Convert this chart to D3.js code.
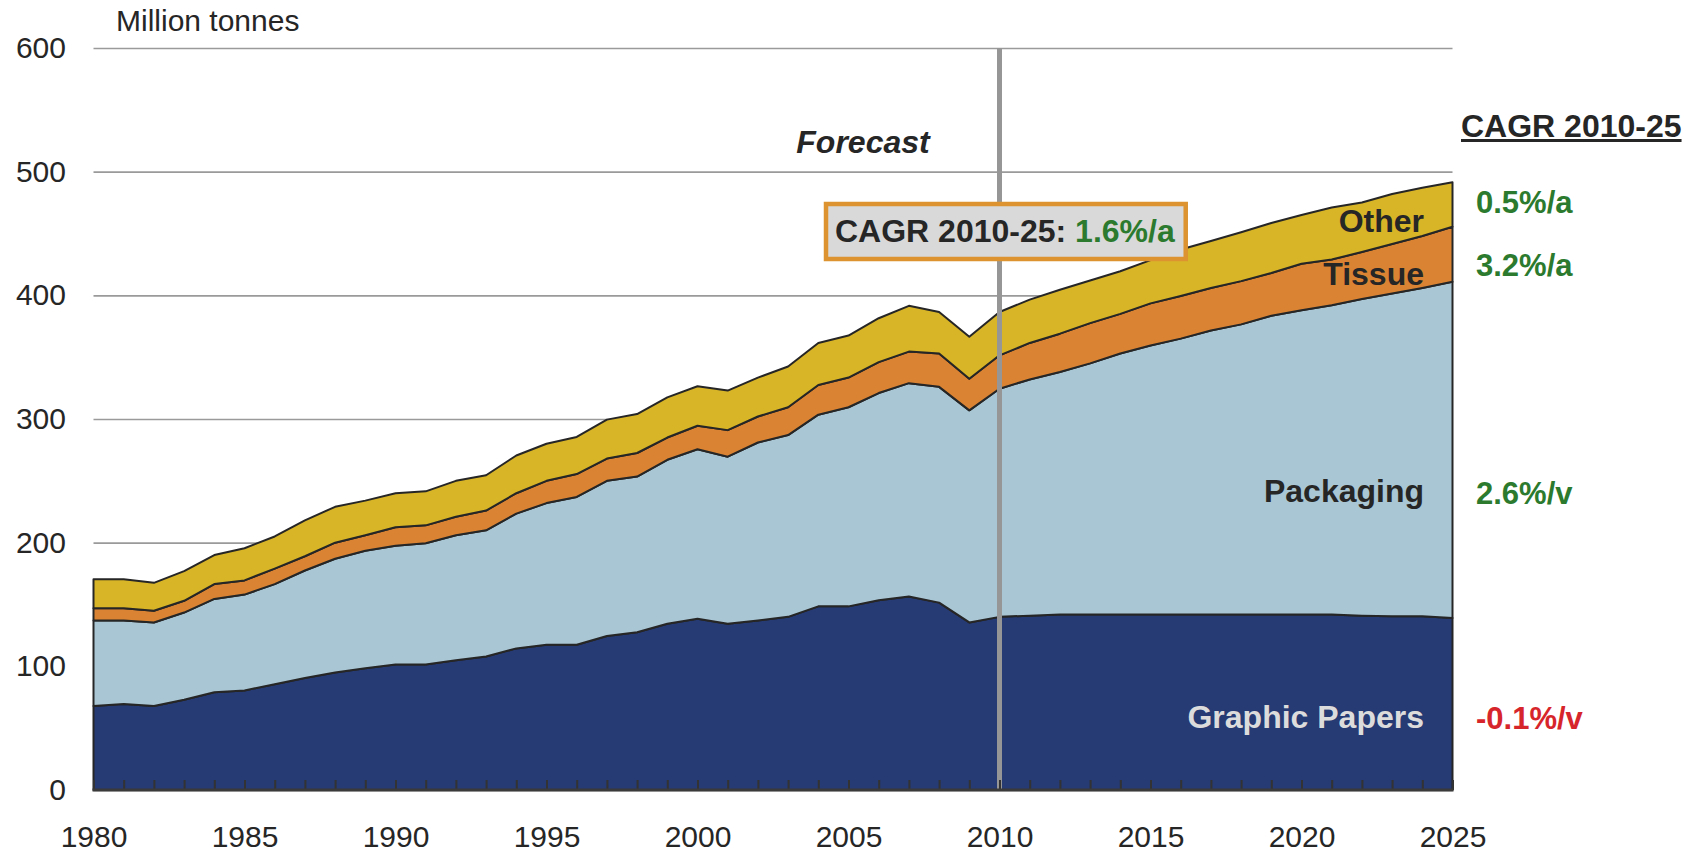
<!DOCTYPE html>
<html>
<head>
<meta charset="utf-8">
<script src="https://cdn.jsdelivr.net/npm/d3@7"></script>
<style>
  html, body { margin: 0; padding: 0; background: #fff; }
  svg { display: block; font-family: "Liberation Sans", Arial, sans-serif; }
</style>
</head>
<body>
<svg id="chart" width="1698" height="852"></svg>
<script>
// years on the x axis
const years = [1980, 1981, 1982, 1983, 1984, 1985, 1986, 1987, 1988, 1989,
  1990, 1991, 1992, 1993, 1994, 1995, 1996, 1997, 1998, 1999,
  2000, 2001, 2002, 2003, 2004, 2005, 2006, 2007, 2008, 2009,
  2010, 2011, 2012, 2013, 2014, 2015, 2016, 2017, 2018, 2019,
  2020, 2021, 2022, 2023, 2024, 2025];

// million tonnes
const graphicPapers = [68, 69.5, 68, 73, 79, 80.5, 85.5, 90.5, 95, 98.5,
  101.5, 101.5, 105, 108, 114.5, 117.5, 117.5, 124.5, 127.5, 134.5,
  138.5, 134.5, 137, 140, 148.5, 148.5, 153.5, 156.5, 151.5, 135.5,
  140, 141, 142, 142, 142, 142, 142, 142, 142, 142,
  142, 142, 141, 140.5, 140.5, 139];
const packaging = [69, 67.5, 67.5, 70.5, 75.5, 77.5, 81, 87, 92, 95,
  96, 98, 101, 102, 109, 114.5, 119.5, 125.5, 126, 132.5,
  137, 135, 144, 147, 155, 161, 167.5, 172.5, 174.5, 171.5,
  184.5, 191, 196, 203, 211, 217.5, 223, 229.5, 234.5, 241.5,
  246, 250, 256, 261, 265.5, 272];
const tissue = [10, 10, 9.5, 9.5, 12, 11.5, 12.5, 11.5, 13, 12.5,
  15, 14.5, 15, 16, 16.5, 18, 18.5, 18, 19, 18,
  19, 21.5, 21, 22.5, 24, 24, 25, 25.5, 27, 25.5,
  27, 29.5, 31, 32.5, 32, 34, 34.5, 34.5, 35, 34.5,
  37.5, 37, 38, 40, 42, 44.5];
const other = [23.5, 23.5, 22.5, 24, 23.5, 26, 26, 29, 29, 28,
  27.5, 27.5, 29, 28.5, 30.5, 30, 30, 31.5, 31.5, 32.5,
  32, 32, 31.5, 33, 34, 34, 35.5, 37, 33.5, 34,
  35, 35, 35.5, 34.5, 34.5, 35, 37.5, 38, 39.5, 40.5,
  39.5, 42, 40, 40.5, 39, 36];

const seriesKeys = ['graphic', 'packaging', 'tissue', 'other'];
const seriesNames = ['Graphic Papers', 'Packaging', 'Tissue', 'Other'];
const seriesCagr = ['-0.1%/v', '2.6%/v', '3.2%/a', '0.5%/a'];

const yTickValues = [0, 100, 200, 300, 400, 500, 600];
const xLabelYears = [1980, 1985, 1990, 1995, 2000, 2005, 2010, 2015, 2020, 2025];
const forecastStart = 2010;
const totalCagr = '1.6%/a';

const colors = {
  graphic: '#263a73',
  packaging: '#a9c6d5',
  tissue: '#da8433',
  other: '#d8b427'
};
const ink = '#262626';
const green = '#2b7a2e';
const red = '#d7262b';
const font = '"Liberation Sans", Arial, sans-serif';

const svg = d3.select('#chart');

const x = d3.scaleLinear().domain([1980, 2025]).range([93.5, 1452.5]);
const y = d3.scaleLinear().domain([0, 600]).range([790, 48]);

const rows = years.map((yr, i) => ({
  year: yr,
  graphic: graphicPapers[i],
  packaging: packaging[i],
  tissue: tissue[i],
  other: other[i]
}));

const stacked = d3.stack().keys(seriesKeys)(rows);

// gridlines + y labels
const yAxis = svg.append('g')
  .attr('transform', `translate(${x(1980)},0)`)
  .call(d3.axisLeft(y)
    .tickValues(yTickValues)
    .tickSize(-(x(2025) - x(1980)))
    .tickPadding(27.5)
    .tickFormat(d3.format('d')));
yAxis.select('.domain').remove();
yAxis.selectAll('.tick line')
  .attr('stroke', '#9a9a9a')
  .attr('stroke-width', 1.6);
yAxis.selectAll('.tick text')
  .attr('fill', ink)
  .style('font-family', font)
  .style('font-size', '30px');

// stacked areas
const area = d3.area()
  .x(d => x(d.data.year))
  .y0(d => y(d[0]))
  .y1(d => y(d[1]));

svg.append('g')
  .selectAll('path')
  .data(stacked)
  .join('path')
  .attr('d', area)
  .attr('fill', d => colors[d.key])
  .attr('stroke', ink)
  .attr('stroke-width', 2)
  .attr('stroke-linejoin', 'round');

// forecast divider
svg.append('line')
  .attr('x1', x(forecastStart)).attr('x2', x(forecastStart))
  .attr('y1', y(600)).attr('y2', y(0))
  .attr('stroke', '#969696')
  .attr('stroke-width', 5);

// yearly ticks pointing up
const minor = svg.append('g')
  .attr('transform', `translate(0,${y(0)})`)
  .call(d3.axisBottom(x).tickValues(years).tickSize(-10).tickFormat(''));
minor.select('.domain').remove();
minor.selectAll('.tick line').attr('stroke', '#333').attr('stroke-width', 2);

// x axis labels
const xAxis = svg.append('g')
  .attr('transform', `translate(0,${y(0)})`)
  .call(d3.axisBottom(x)
    .tickValues(xLabelYears)
    .tickSize(0)
    .tickPadding(36)
    .tickFormat(d3.format('d')));
xAxis.select('.domain').remove();
xAxis.selectAll('.tick text')
  .attr('fill', ink)
  .style('font-family', font)
  .style('font-size', '30px');

svg.append('line')
  .attr('x1', x(1980) - 1).attr('x2', x(2025) + 1)
  .attr('y1', y(0)).attr('y2', y(0))
  .attr('stroke', '#3a3a3a')
  .attr('stroke-width', 3);

// unit
svg.append('text')
  .attr('x', 116).attr('y', 31)
  .attr('fill', ink)
  .style('font-size', '30px')
  .text('Million tonnes');

// forecast label
svg.append('text')
  .attr('x', 863).attr('y', 153)
  .attr('text-anchor', 'middle')
  .attr('fill', ink)
  .style('font-size', '32px')
  .style('font-weight', 'bold')
  .style('font-style', 'italic')
  .text('Forecast');

// total CAGR box
const boxG = svg.append('g');
const boxRect = boxG.append('rect');
const boxText = boxG.append('text')
  .attr('x', 835).attr('y', 242)
  .style('font-size', '32px')
  .style('font-weight', 'bold');
boxText.append('tspan').attr('fill', ink).text('CAGR 2010-25: ');
boxText.append('tspan').attr('fill', green).text(totalCagr);
const tw = boxText.node().getComputedTextLength();
boxRect
  .attr('x', 826).attr('y', 204)
  .attr('width', tw + 20).attr('height', 55)
  .attr('fill', '#d9d9d9')
  .attr('stroke', '#dc9330')
  .attr('stroke-width', 4.5);

// series labels inside the areas
const labelSpots = [
  { name: seriesNames[0], by: 728, fill: '#dcdcdc' },
  { name: seriesNames[1], by: 502, fill: ink },
  { name: seriesNames[2], by: 285, fill: ink },
  { name: seriesNames[3], by: 232, fill: ink }
];
svg.append('g')
  .selectAll('text')
  .data(labelSpots)
  .join('text')
  .attr('x', 1424)
  .attr('y', d => d.by)
  .attr('text-anchor', 'end')
  .attr('fill', d => d.fill)
  .style('font-size', '32px')
  .style('font-weight', 'bold')
  .text(d => d.name);

// CAGR column on the right
const head = svg.append('text')
  .attr('x', 1461).attr('y', 137)
  .attr('fill', ink)
  .style('font-size', '32px')
  .style('font-weight', 'bold')
  .text('CAGR 2010-25');
const hw = head.node().getComputedTextLength();
svg.append('line')
  .attr('x1', 1461).attr('x2', 1461 + hw)
  .attr('y1', 140.5).attr('y2', 140.5)
  .attr('stroke', ink)
  .attr('stroke-width', 3);

const cagrSpots = [729, 504, 276, 213];
svg.append('g')
  .selectAll('text')
  .data(seriesCagr)
  .join('text')
  .attr('x', 1476)
  .attr('y', (d, i) => cagrSpots[i])
  .attr('fill', d => d.startsWith('-') ? red : green)
  .style('font-size', '31px')
  .style('font-weight', 'bold')
  .text(d => d);
</script>
</body>
</html>
